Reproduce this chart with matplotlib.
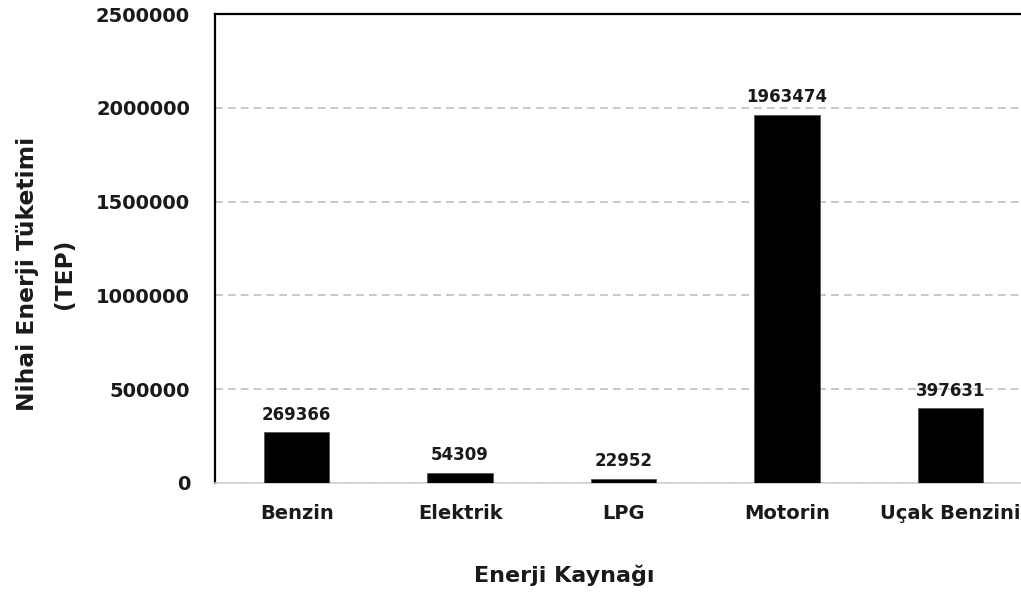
import matplotlib.pyplot as plt

categories = ["Benzin", "Elektrik", "LPG", "Motorin", "Uçak Benzini"]
values = [269366, 54309, 22952, 1963474, 397631]
yticks = [0, 500000, 1000000, 1500000, 2000000, 2500000]

plt.rcParams['font.family'] = ['DejaVu Sans']
plt.rcParams['font.weight'] = 'bold'

fig = plt.figure(figsize=(10.21, 5.94), dpi=100)
ax = fig.add_axes([215 / 1021, 111 / 594, 817 / 1021, 469 / 594])

x = range(len(categories))
ax.bar(x, values, width=0.4, color="black", edgecolor="#555555", linewidth=0.6, zorder=3)
for xi, v in zip(x, values):
    ax.annotate(str(v), (xi, v), xytext=(0, 6), textcoords="offset points",
                ha="center", va="bottom", fontsize=12, fontweight="bold", color="#1a1a1a")

ax.set_xlim(-0.5, 4.5)
ax.set_ylim(0, 2500000)
ax.set_yticks(yticks)
ax.set_yticklabels([str(t) for t in yticks])
ax.set_xticks(list(x))
ax.set_xticklabels(categories)
ax.tick_params(axis="both", length=0, colors="#1a1a1a")
ax.tick_params(axis="x", pad=15, labelsize=14)
ax.tick_params(axis="y", pad=18, labelsize=14)
for lbl in ax.get_xticklabels() + ax.get_yticklabels():
    lbl.set_fontweight("bold")

ax.yaxis.grid(True, linestyle=(0, (4.7, 3)), color="#c0c0c0", linewidth=1.2, zorder=0)
ax.spines["right"].set_visible(False)
ax.spines["left"].set_linewidth(1.6)
ax.spines["top"].set_linewidth(1.6)
ax.spines["bottom"].set_color("#d0d0d0")
ax.spines["bottom"].set_linewidth(1.2)

ax.set_xlabel("Enerji Kaynağı", fontsize=16, fontweight="bold", color="#1a1a1a")
ax.xaxis.set_label_coords((564 - 215) / 817, -(564 - 483) / 469)
ax.set_ylabel("Nihai Enerji Tüketimi\n(TEP)", fontsize=16.8, fontweight="bold",
              color="#1a1a1a", linespacing=1.75)
ax.yaxis.set_label_coords(-(215 - 76) / 817, (483 - 274) / 469)

plt.savefig("out.png", dpi=100)
